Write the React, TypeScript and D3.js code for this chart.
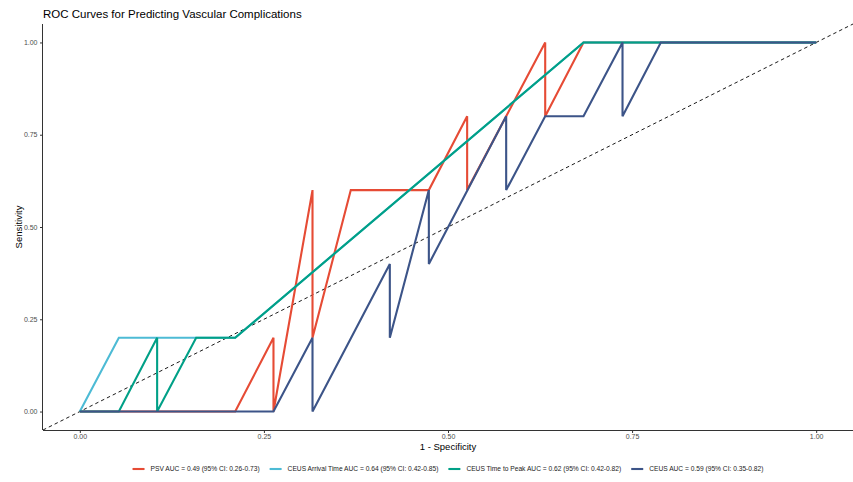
import React, { useRef, useEffect } from "react"
import * as d3 from "d3"

// ROC points (false positive rate = 1 - specificity, true positive rate = sensitivity)
const psvFpr = [0, 0.211, 0.263, 0.263, 0.316, 0.316, 0.368, 0.474, 0.526, 0.526, 0.632, 0.632, 0.684, 1]
const psvTpr = [0, 0, 0.2, 0, 0.6, 0.2, 0.6, 0.6, 0.8, 0.6, 1, 0.8, 1, 1]

const arrivalFpr = [0, 0.053, 0.211, 0.684, 1]
const arrivalTpr = [0, 0.2, 0.2, 1, 1]

const peakFpr = [0, 0.053, 0.105, 0.105, 0.158, 0.211, 0.684, 1]
const peakTpr = [0, 0, 0.2, 0, 0.2, 0.2, 1, 1]

const ceusFpr = [0, 0.263, 0.316, 0.316, 0.421, 0.421, 0.474, 0.474, 0.579, 0.579, 0.632, 0.684, 0.737, 0.737, 0.789, 1]
const ceusTpr = [0, 0, 0.2, 0, 0.4, 0.2, 0.6, 0.4, 0.8, 0.6, 0.8, 0.8, 1, 0.8, 1, 1]

const seriesNames = [
  "PSV AUC = 0.49 (95% CI: 0.26-0.73)",
  "CEUS Arrival Time AUC = 0.64 (95% CI: 0.42-0.85)",
  "CEUS Time to Peak AUC = 0.62 (95% CI: 0.42-0.82)",
  "CEUS AUC = 0.59 (95% CI: 0.35-0.82)",
]
const seriesColors = ["#E64B35", "#4DBBD5", "#00A087", "#3C5488"]
const axisTicks = [0, 0.25, 0.5, 0.75, 1]

const W = 853
const H = 482
const FONT = "'Liberation Sans', Arial, Helvetica, sans-serif"

function App() {
  const ref = useRef<SVGSVGElement>(null)

  useEffect(() => {
    const svg = d3.select(ref.current)
    svg.selectAll("*").remove()

    const panel = { left: 43, right: 853, top: 24, bottom: 430 }

    const x = d3.scaleLinear().domain([-0.05, 1.05]).range([panel.left, panel.right])
    const y = d3.scaleLinear().domain([-0.05, 1.05]).range([panel.bottom, panel.top])

    const series = [
      { fpr: psvFpr, tpr: psvTpr },
      { fpr: arrivalFpr, tpr: arrivalTpr },
      { fpr: peakFpr, tpr: peakTpr },
      { fpr: ceusFpr, tpr: ceusTpr },
    ]

    // title
    svg
      .append("text")
      .attr("x", panel.left)
      .attr("y", 18)
      .style("font-family", FONT)
      .style("font-size", "11.5px")
      .attr("fill", "#000")
      .text("ROC Curves for Predicting Vascular Complications")

    // reference diagonal across the whole panel
    svg
      .append("line")
      .attr("x1", x(-0.05))
      .attr("y1", y(-0.05))
      .attr("x2", x(1.05))
      .attr("y2", y(1.05))
      .attr("stroke", "#000")
      .attr("stroke-width", 0.9)
      .attr("stroke-dasharray", "3.5,3")

    const line = d3
      .line<[number, number]>()
      .x(d => x(d[0]))
      .y(d => y(d[1]))

    series.forEach((s, i) => {
      const pts: [number, number][] = s.fpr.map((f, j) => [f, s.tpr[j]])
      svg
        .append("path")
        .attr("d", line(pts))
        .attr("fill", "none")
        .attr("stroke", seriesColors[i])
        .attr("stroke-width", 2.1)
        .attr("stroke-linejoin", "miter")
    })

    // axes
    const xAxis = svg
      .append("g")
      .attr("transform", `translate(0,${panel.bottom})`)
      .call(d3.axisBottom(x).tickValues(axisTicks).tickSize(3).tickSizeOuter(0).tickPadding(1.5).tickFormat(d3.format(".2f")))
    const yAxis = svg
      .append("g")
      .attr("transform", `translate(${panel.left},0)`)
      .call(d3.axisLeft(y).tickValues(axisTicks).tickSize(3).tickSizeOuter(0).tickPadding(2.5).tickFormat(d3.format(".2f")))

    ;[xAxis, yAxis].forEach(g => {
      g.select(".domain").attr("stroke", "#333").attr("stroke-width", 1)
      g.selectAll(".tick line").attr("stroke", "#333")
      g.selectAll(".tick text")
        .attr("fill", "#4D4D4D")
        .style("font-family", FONT)
        .style("font-size", "7px")
    })
    xAxis.select(".domain").attr("d", `M${panel.left},0.5H${panel.right}`)
    yAxis.select(".domain").attr("d", `M-0.5,${panel.top}V${panel.bottom}`)

    // axis titles
    svg
      .append("text")
      .attr("x", (panel.left + panel.right) / 2)
      .attr("y", 450)
      .attr("text-anchor", "middle")
      .style("font-family", FONT)
      .style("font-size", "9.5px")
      .attr("fill", "#000")
      .text("1 - Specificity")
    svg
      .append("text")
      .attr("transform", `translate(21.5,${(panel.top + panel.bottom) / 2}) rotate(-90)`)
      .attr("text-anchor", "middle")
      .style("font-family", FONT)
      .style("font-size", "9.5px")
      .attr("fill", "#000")
      .text("Sensitivity")

    // legend, centred under the panel
    const legend = svg.append("g")
    const keyW = 12
    const keyGap = 6
    const itemGap = 10
    let cursor = 0
    seriesNames.forEach((name, i) => {
      const item = legend.append("g").attr("transform", `translate(${cursor},0)`)
      item
        .append("line")
        .attr("x1", 0)
        .attr("x2", keyW)
        .attr("y1", 0)
        .attr("y2", 0)
        .attr("stroke", seriesColors[i])
        .attr("stroke-width", 2.1)
      const t = item
        .append("text")
        .attr("x", keyW + keyGap)
        .attr("y", 2.4)
        .style("font-family", FONT)
        .style("font-size", "6.65px")
        .attr("fill", "#1a1a1a")
        .text(name)
      const tw = (t.node() as SVGTextElement).getComputedTextLength()
      cursor += keyW + keyGap + tw + itemGap
    })
    const totalW = cursor - itemGap
    legend.attr("transform", `translate(${(panel.left + panel.right) / 2 - totalW / 2},469)`)
  }, [])

  return (
    <svg
      ref={ref}
      width={W}
      height={H}
      style={{ position: "absolute", left: 0, top: 0, background: "#fff" }}
    />
  )
}

export default App
